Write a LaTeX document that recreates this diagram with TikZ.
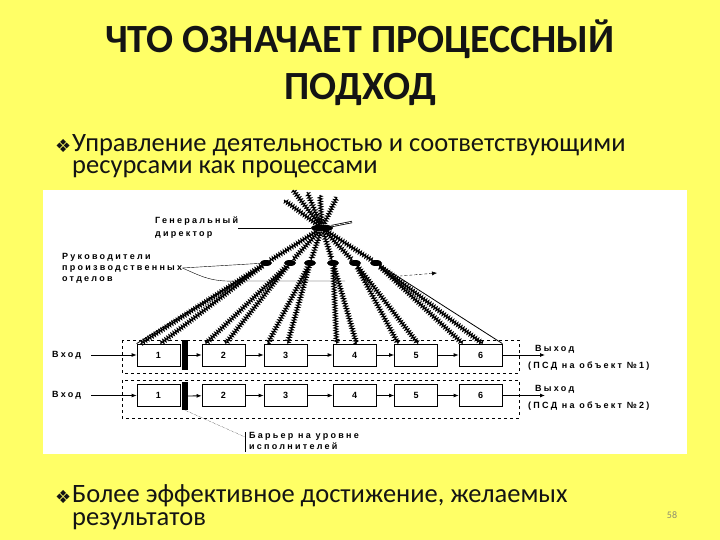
\documentclass[tikz,border=0pt]{standalone}
\usepackage{fontspec}
\setmainfont{Carlito}
\newfontfamily\symfont{DejaVu Sans}
\newfontfamily\diagfont[LetterSpace=25]{Liberation Sans}
\usetikzlibrary{positioning,arrows.meta,shapes.geometric,decorations.pathmorphing}
\definecolor{slideYellow}{HTML}{FFFF66}
\definecolor{slideInk}{HTML}{141414}
\definecolor{pageGray}{HTML}{8C8C6E}

\begin{document}
\begin{tikzpicture}[x=1pt,y=-1pt,
  procbox/.style={draw, thick, minimum width=43pt, minimum height=22pt, inner sep=0pt, font=\diagfont\bfseries\fontsize{9}{10}\selectfont},
  barrier/.style={fill, minimum width=6pt, inner sep=0pt},
  lbl/.style={font=\diagfont\bfseries\fontsize{9}{11}\selectfont, align=left, inner sep=0pt},
  flow/.style={-{Latex[length=5pt,width=4pt]}, thick},
  zz/.style={decorate, decoration={zigzag, amplitude=1.8pt, segment length=2.6pt}, line width=1.1pt},
  mgr/.style={fill, ellipse, minimum width=12pt, minimum height=6pt, inner sep=0pt},
  body/.style={anchor=base west, align=left, inner sep=0pt, text=slideInk, font=\fontsize{26.5}{22.5}\selectfont},
  bul/.style={anchor=base west, inner sep=0pt, text=slideInk, font=\symfont\fontsize{18}{20}\selectfont}]
% slide
\fill[slideYellow] (0,0) rectangle (720,540);
\fill[white] (43,190) rectangle (687,454);
\node[anchor=base, inner sep=0pt, text=slideInk, font=\bfseries\fontsize{40}{46}\selectfont] (t1) at (360,53) {ЧТО ОЗНАЧАЕТ ПРОЦЕССНЫЙ};
\node[anchor=base, inner sep=0pt, text=slideInk, font=\bfseries\fontsize{40}{46}\selectfont] (t2) at (360,100) {ПОДХОД};
\node[bul] (d1) at (55,153) {❖};
% the node's base is its last line
\node[body] (p1) at (72,174) {Управление деятельностью и соответствующими\\ресурсами как процессами};
\node[bul] (d2) at (55,503) {❖};
\node[body] (p2) at (72,525) {Более эффективное достижение, желаемых\\результатов};
\node[text=pageGray, font=\fontsize{10}{12}\selectfont] (num) at (672,515) {58};

% frames
\draw[dashed] (122,340) rectangle (519,373);
\draw[dashed] (122,380) rectangle (519,418);

% process rows
\foreach \r/\y in {1/355,2/395.5} {
  \foreach \i/\x in {1/158.5,2/223.5,3/285.5,4/354.5,5/416,6/480.5}
    \node[procbox] (b\r\i) at (\x,\y) {\i};
  \foreach \i in {2,...,5} {
    \pgfmathtruncatemacro{\j}{\i+1}
    \draw[flow] (b\r\i) -- (b\r\j);
  }
  \node[lbl, anchor=west] (in\r) at (52,\y) {Вход};
  \draw[flow] ([xshift=10pt]in\r.east) -- (b\r1.west);
  \coordinate (out\r) at (545,\y);
  \draw[flow] (b\r6.east) -- (out\r);
  \node[lbl, anchor=south west] (outlbl\r) at (535,\y-2) {Выход};
}
\node[barrier, minimum height=30pt] (bar1) at (185,355) {};
\node[barrier, minimum height=28pt] (bar2) at (185,396) {};
\draw[flow] (bar1) -- (b12);
\draw[flow] (bar2) -- (b22);
\node[lbl, anchor=west] (obj1) at (528,366) {(ПСД на объект №1)};
\node[lbl, anchor=west] (obj2) at (528,406) {(ПСД на объект №2)};

% barrier callout
\coordinate (bc) at (245,437);
\draw[densely dotted] (bar2.south) -- (bc);
\draw (245,432) -- (245,452);
\node[lbl, anchor=north west] (barlbl) at (249,432) {Барьер на уровне\\исполнителей};

% hierarchy
\node[fill, ellipse, minimum width=22pt, minimum height=7pt, inner sep=0pt] (gd) at (322,228) {};
\foreach \i/\x in {1/266,2/290,3/310,4/333,5/355,6/376}
  \node[mgr] (m\i) at (\x,263) {};
\foreach \p in {(284,200),(293,190),(307,192),(320,195),(337,197)}
  \draw[zz] (gd) -- \p;
\draw[thick, double] (gd) -- (352,222);
\foreach \i in {1,...,6} {
  \draw[zz] (gd) -- (m\i);
  \draw[zz] (m\i) -- ([xshift=4pt]b1\i.north west);
  \draw[zz] (m\i) -- ([xshift=2pt]b1\i.north);
}
\draw[thick] (gd) -- (b11.north west);
\draw[thick] (gd) -- (b16.north east);

% labels of the hierarchy
\node[lbl, anchor=west, font=\diagfont\bfseries\fontsize{9}{13}\selectfont] (gdlbl) at (155,228) {Генеральный\\директор};
\draw (gdlbl.east) -- (gd);
\node[lbl, anchor=west] (mlbl) at (62,268) {Руководители\\производственных\\отделов};
\draw (mlbl.east) -- (m1);
\draw (mlbl.east) .. controls (205,278) and (212,282) .. (240,281) -- (345,281);
\draw[densely dashed, {Latex[length=5pt,width=4pt]}-] (437,273) -- (400,276);
\end{tikzpicture}
\end{document}
